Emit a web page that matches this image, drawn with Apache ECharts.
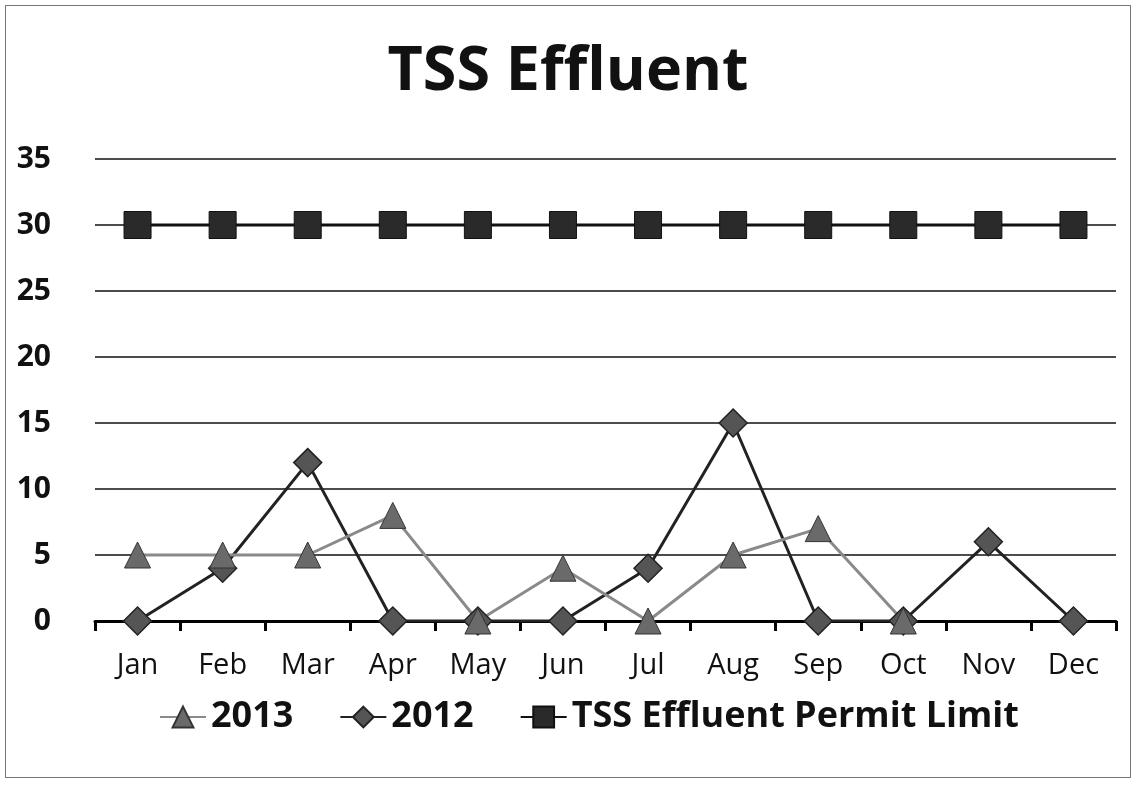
<html>
<head>
<meta charset="UTF-8">
<title>TSS Effluent</title>
<script src="https://cdn.jsdelivr.net/npm/echarts@6/dist/echarts.min.js"></script>
<style>
    body { margin: 0; padding: 0; background: #fff; overflow: hidden; }
    #chart {
        position: absolute; left: 5px; top: 5px;
        width: 1124px; height: 771px;
        border: 1px solid #777;
    }
</style>
</head>
<body>
<div id="chart"></div>
<script>
    const months = ['Jan', 'Feb', 'Mar', 'Apr', 'May', 'Jun', 'Jul', 'Aug', 'Sep', 'Oct', 'Nov', 'Dec'];
    const y2013 = [5, 5, 5, 8, 0, 4, 0, 5, 7, 0, null, null];
    const y2012 = [0, 4, 12, 0, 0, 0, 4, 15, 0, 0, 6, 0];
    const permitLimit = [30, 30, 30, 30, 30, 30, 30, 30, 30, 30, 30, 30];
    const yTicks = [0, 35, 5];

    const font = '"Open Sans", "Noto Sans", sans-serif';
    const ec = echarts.init(document.getElementById('chart'));

    const option = {
        animation: false,
        title: {
            text: 'TSS Effluent',
            left: 'center',
            top: 31,
            textStyle: { fontFamily: font, fontSize: 61, fontWeight: 'bold', color: '#111' }
        },
        legend: {
            bottom: 37,
            left: 148,
            itemWidth: 46,
            itemHeight: 26,
            itemGap: 46,
            textStyle: { fontFamily: font, fontSize: 36, fontWeight: 'bold', color: '#111' },
            data: ['2013', '2012', 'TSS Effluent Permit Limit']
        },
        grid: { left: 89, right: 14, top: 153, bottom: 156 },
        xAxis: {
            type: 'category',
            data: months,
            boundaryGap: true,
            axisLine: { lineStyle: { color: '#000', width: 3 } },
            axisTick: { show: true, length: 10, lineStyle: { color: '#000', width: 3 } },
            axisLabel: { fontFamily: font, fontSize: 29, color: '#111', margin: 30 }
        },
        yAxis: {
            type: 'value',
            min: yTicks[0],
            max: yTicks[1],
            interval: yTicks[2],
            axisLine: { show: false },
            axisTick: { show: false },
            axisLabel: { fontFamily: font, fontSize: 30, fontWeight: 'bold', color: '#111', margin: 44 },
            splitLine: { lineStyle: { color: '#111', width: 1.5 } }
        },
        series: [
            {
                name: 'TSS Effluent Permit Limit',
                type: 'line',
                data: permitLimit,
                symbol: 'rect',
                symbolSize: 27,
                lineStyle: { color: '#111', width: 3 },
                itemStyle: { color: '#2a2a2a', borderColor: '#111', borderWidth: 1 }
            },
            {
                name: '2012',
                type: 'line',
                data: y2012,
                symbol: 'diamond',
                symbolSize: 28,
                lineStyle: { color: '#222', width: 3 },
                itemStyle: { color: '#555', borderColor: '#222', borderWidth: 1.5 }
            },
            {
                name: '2013',
                type: 'line',
                data: y2013,
                symbol: 'triangle',
                symbolSize: 26,
                lineStyle: { color: '#8a8a8a', width: 3 },
                itemStyle: { color: '#6a6a6a', borderColor: '#333', borderWidth: 1 }
            }
        ]
    };
    ec.setOption(option);
</script>
</body>
</html>
